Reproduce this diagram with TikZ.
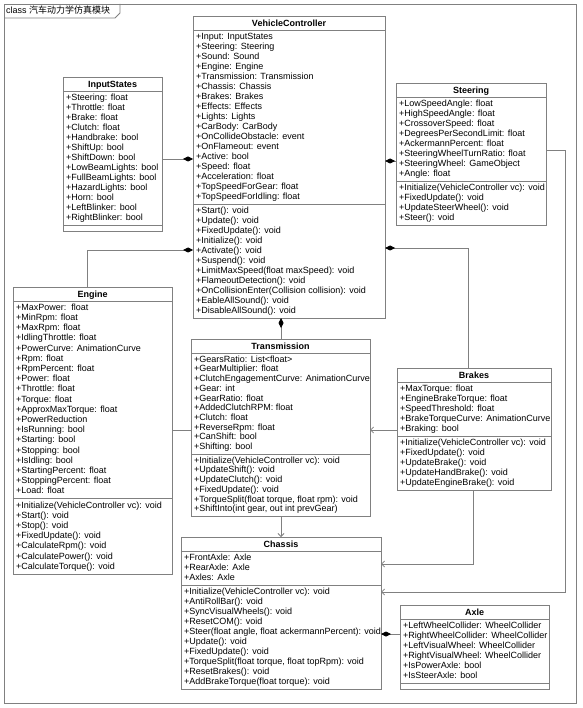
\documentclass[tikz,border=0pt]{standalone}
\usepackage{fontspec}
\setmainfont{Liberation Sans}
\newfontfamily\cjkfont{Noto Sans CJK SC}
\usetikzlibrary{arrows.meta}
\definecolor{linegray}{RGB}{128,128,128}
\newcommand\fs{\rule{0pt}{7pt}}
\begin{document}
\begin{tikzpicture}[x=1pt,y=-1pt,
 umlbox/.style={draw=linegray, line width=0.8pt, fill=white, inner sep=0pt, outer sep=0pt, anchor=north west},
 umltitle/.style={font=\fontsize{9pt}{10pt}\selectfont\bfseries, inner sep=0pt, anchor=base},
 rows/.style={font=\fontsize{9pt}{#1}\selectfont, align=left, inner sep=0pt, anchor=north west},
 rows/.default=10pt,
 sepline/.style={draw=linegray, line width=0.8pt},
 conn/.style={draw=linegray, line width=0.8pt},
 comp/.style={conn, {Diamond[length=10pt,width=5pt,color=black]}-},
 dep/.style={conn, -{Straight Barb[length=3pt,width=6pt]}},
]
\useasboundingbox (0,0) rectangle (582,708);
\fill[white] (0,0) rectangle (582,708);
% frame
\draw[linegray, line width=0.8pt] (4,4) rectangle (576,703);
\draw[linegray, line width=0.8pt] (4,18) -- (115,18) -- (120,13) -- (120,4);
\node[anchor=base west, font=\fontsize{9pt}{10pt}\selectfont, inner sep=0pt] (frametitle) at (6,14) {class {\cjkfont 汽车动力学仿真模块}};

% VehicleController
\node[umlbox, minimum width=192pt, minimum height=302pt] (vc) at (193,16) {};
\node[umltitle] (vct) at (289,26.3) {VehicleController};
\draw[sepline] (193,30) -- (385,30);
\node[rows] (vca) at (196,32) {\fs+Input: InputStates\\+Steering: Steering\\+Sound: Sound\\+Engine: Engine\\+Transmission: Transmission\\+Chassis: Chassis\\+Brakes: Brakes\\+Effects: Effects\\+Lights: Lights\\+CarBody: CarBody\\+OnCollideObstacle: event\\+OnFlameout: event\\+Active: bool\\+Speed: float\\+Acceleration: float\\+TopSpeedForGear: float\\+TopSpeedForIdling: float};
\draw[sepline] (193,204) -- (385,204);
\node[rows] (vcm) at (196,206) {\fs+Start(): void\\+Update(): void\\+FixedUpdate(): void\\+Initialize(): void\\+Activate(): void\\+Suspend(): void\\+LimitMaxSpeed(float maxSpeed): void\\+FlameoutDetection(): void\\+OnCollisionEnter(Collision collision): void\\+EableAllSound(): void\\+DisableAllSound(): void};

% InputStates
\node[umlbox, minimum width=99pt, minimum height=154pt] (ins) at (63,77) {};
\node[umltitle] (inst) at (112.5,87.3) {InputStates};
\draw[sepline] (63,91) -- (162,91);
\node[rows] (insa) at (66,93) {\fs+Steering: float\\+Throttle: float\\+Brake: float\\+Clutch: float\\+Handbrake: bool\\+ShiftUp: bool\\+ShiftDown: bool\\+LowBeamLights: bool\\+FullBeamLights: bool\\+HazardLights: bool\\+Horn: bool\\+LeftBlinker: bool\\+RightBlinker: bool};
\draw[sepline] (63,225) -- (162,225);

% Steering
\node[umlbox, minimum width=150pt, minimum height=142pt] (steer) at (396,83) {};
\node[umltitle] (steert) at (471,93.3) {Steering};
\draw[sepline] (396,97) -- (546,97);
\node[rows] (steera) at (399,99) {\fs+LowSpeedAngle: float\\+HighSpeedAngle: float\\+CrossoverSpeed: float\\+DegreesPerSecondLimit: float\\+AckermannPercent: float\\+SteeringWheelTurnRatio: float\\+SteeringWheel: GameObject\\+Angle: float};
\draw[sepline] (396,181) -- (546,181);
\node[rows] (steerm) at (399,183) {\fs+Initialize(VehicleController vc): void\\+FixedUpdate(): void\\+UpdateSteerWheel(): void\\+Steer(): void};

% Engine
\node[umlbox, minimum width=159pt, minimum height=287pt] (eng) at (13,287) {};
\node[umltitle] (engt) at (92.5,297.3) {Engine};
\draw[sepline] (13,301) -- (172,301);
\node[rows=10.2pt] (enga) at (16,303) {\fs+MaxPower:\ \ float\\+MinRpm: float\\+MaxRpm: float\\+IdlingThrottle: float\\+PowerCurve: AnimationCurve\\+Rpm: float\\+RpmPercent: float\\+Power: float\\+Throttle: float\\+Torque: float\\+ApproxMaxTorque: float\\+PowerReduction\\+IsRunning: bool\\+Starting: bool\\+Stopping: bool\\+IsIdling: bool\\+StartingPercent: float\\+StoppingPercent: float\\+Load: float};
\draw[sepline] (13,498.8) -- (172,498.8);
\node[rows=10.2pt] (engm) at (16,500.8) {\fs+Initialize(VehicleController vc): void\\+Start(): void\\+Stop(): void\\+FixedUpdate(): void\\+CalculateRpm(): void\\+CalculatePower(): void\\+CalculateTorque(): void};

% Transmission
\node[umlbox, minimum width=179pt, minimum height=177pt] (trn) at (191,339) {};
\node[umltitle] (trnt) at (280.5,349.3) {Transmission};
\draw[sepline] (191,353) -- (370,353);
\node[rows=9.7pt] (trna) at (194,355) {\fs+GearsRatio: List<float>\\+GearMultiplier: float\\+ClutchEngagementCurve: AnimationCurve\\+Gear: int\\+GearRatio: float\\+AddedClutchRPM: float\\+Clutch: float\\+ReverseRpm: float\\+CanShift: bool\\+Shifting: bool};
\draw[sepline] (191,454) -- (370,454);
\node[rows=9.7pt] (trnm) at (194,456) {\fs+Initialize(VehicleController vc): void\\+UpdateShift(): void\\+UpdateClutch(): void\\+FixedUpdate(): void\\+TorqueSplit(float torque, float rpm): void\\+ShiftInto(int gear, out int prevGear)};

% Brakes
\node[umlbox, minimum width=154pt, minimum height=122pt] (brk) at (397,368) {};
\node[umltitle] (brkt) at (474,378.3) {Brakes};
\draw[sepline] (397,382) -- (551,382);
\node[rows] (brka) at (400,384) {\fs+MaxTorque: float\\+EngineBrakeTorque: float\\+SpeedThreshold: float\\+BrakeTorqueCurve: AnimationCurve\\+Braking: bool};
\draw[sepline] (397,436) -- (551,436);
\node[rows] (brkm) at (400,438) {\fs+Initialize(VehicleController vc): void\\+FixedUpdate(): void\\+UpdateBrake(): void\\+UpdateHandBrake(): void\\+UpdateEngineBrake(): void};

% Chassis
\node[umlbox, minimum width=200pt, minimum height=152pt] (chs) at (181,537) {};
\node[umltitle] (chst) at (281,547.3) {Chassis};
\draw[sepline] (181,551) -- (381,551);
\node[rows] (chsa) at (184,553) {\fs+FrontAxle: Axle\\+RearAxle: Axle\\+Axles: Axle};
\draw[sepline] (181,585) -- (381,585);
\node[rows] (chsm) at (184,587) {\fs+Initialize(VehicleController vc): void\\+AntiRollBar(): void\\+SyncVisualWheels(): void\\+ResetCOM(): void\\+Steer(float angle, float ackermannPercent): void\\+Update(): void\\+FixedUpdate(): void\\+TorqueSplit(float torque, float topRpm): void\\+ResetBrakes(): void\\+AddBrakeTorque(float torque): void};

% Axle
\node[umlbox, minimum width=149pt, minimum height=84pt] (axle) at (400,605) {};
\node[umltitle] (axlet) at (474.5,615.3) {Axle};
\draw[sepline] (400,619) -- (549,619);
\node[rows] (axlea) at (403,621) {\fs+LeftWheelCollider: WheelCollider\\+RightWheelCollider: WheelCollider\\+LeftVisualWheel: WheelCollider\\+RightVisualWheel: WheelCollider\\+IsPowerAxle: bool\\+IsSteerAxle: bool};
\draw[sepline] (400,683) -- (549,683);

% connectors
\draw[comp] (vc.west |- 0,159) -- (ins.east |- 0,159);
\draw[comp] (vc.east |- 0,161) -- (steer.west |- 0,161);
\draw[comp] (vc.west |- 0,250) -| (eng.north -| 87,0);
\draw[comp] (vc.east |- 0,248) -| (brk.north -| 468,0);
\draw[comp] (vc.south -| 281,0) -- (trn.north -| 281,0);
\draw[dep] (trn.south -| 281,0) -- (chs.north -| 281,0);
\draw[conn] (eng.east |- 0,430) -- (trn.west |- 0,430);
\draw[dep] (brk.west |- 0,430) -- (trn.east |- 0,430);
\draw[dep] (brk.south -| 473,0) |- (chs.east |- 0,564);
\coordinate (sc) at (565,592);
\draw[dep] (steer.east |- 0,150) -| (sc) -- (chs.east |- sc);
\draw[comp] (chs.east |- 0,634) -- (axle.west |- 0,634);
\end{tikzpicture}
\end{document}
